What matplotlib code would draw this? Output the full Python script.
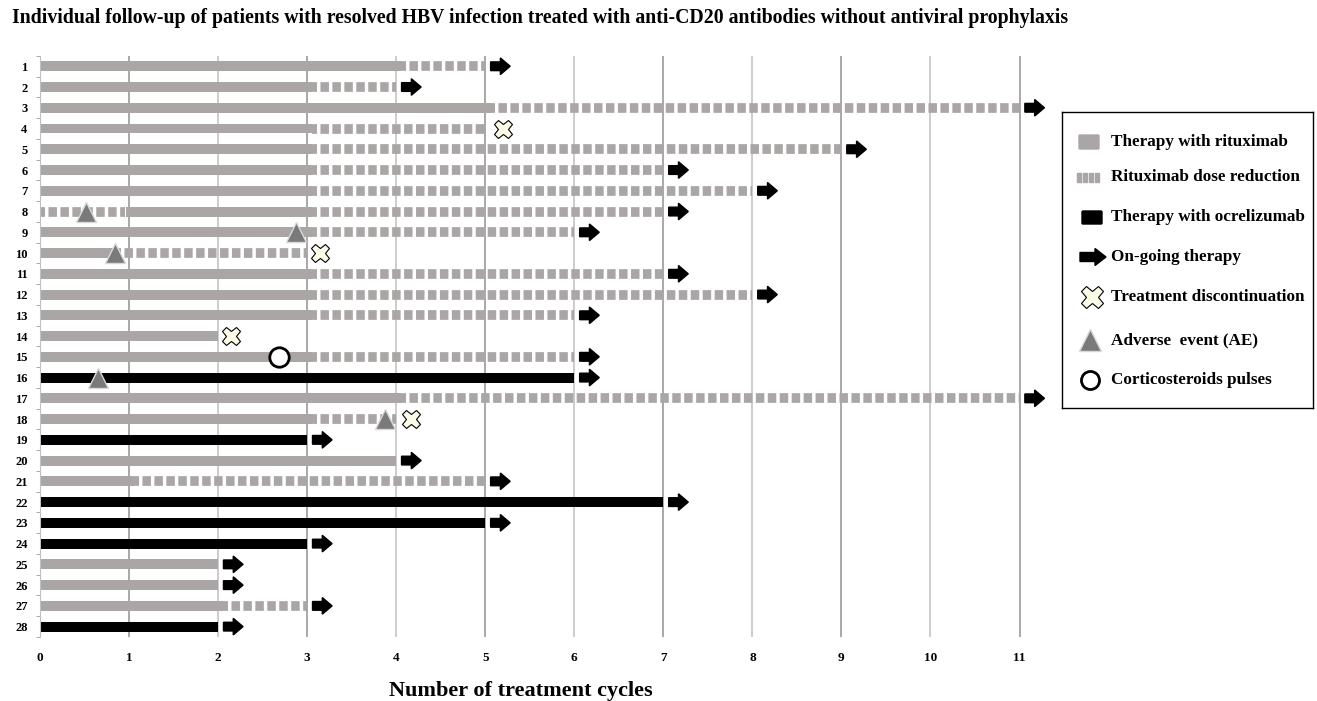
import matplotlib
matplotlib.use('Agg')
import matplotlib.pyplot as plt
from matplotlib.patches import Rectangle, FancyBboxPatch, FancyArrow
import numpy as np

# patient rows 1..28
patients = list(range(1, 29))
drug = ['R', 'R', 'R', 'R', 'R', 'R', 'R', 'R', 'R', 'R',
        'R', 'R', 'R', 'R', 'R', 'O', 'R', 'R', 'O', 'R',
        'R', 'O', 'O', 'O', 'R', 'R', 'R', 'O']
solid_start = [0, 0, 0, 0, 0, 0, 0, 0.97, 0, 0,
               0, 0, 0, 0, 0, 0, 0, 0, 0, 0,
               0, 0, 0, 0, 0, 0, 0, 0]
solid_end = [4.05, 3.05, 5.05, 3.05, 3.05, 3.05, 3.05, 3.05, 3.05, 0.85,
             3.05, 3.05, 3.05, 2.0, 3.05, 6, 4.05, 3.05, 3, 4.0,
             1.05, 7, 5, 3, 2, 2, 2.05, 2]
# end of reduced-dose rituximab (None = no reduction)
reduced_end = [5, 4, 11, 5, 9, 7, 8, 7, 6, 3,
               7, 8, 6, None, 6, None, 11, 4, None, None,
               5, None, None, None, None, None, 3, None]
# reduced dose before full dose (patient 8)
early_reduction = {8: (0, 0.95)}
ongoing = [True, True, True, False, True, True, True, True, True, False,
           True, True, True, False, True, True, True, False, True, True,
           True, True, True, True, True, True, True, True]
discontinuation = {4: 5.2, 10: 3.14, 14: 2.15, 18: 4.17}
adverse_event = {8: 0.52, 9: 2.88, 10: 0.84, 16: 0.65, 18: 3.87}
steroid_pulse = {15: 2.68}

GRAY = '#aaa6a6'
BAR_H = 0.48
plt.rcParams['font.family'] = ['Liberation Serif', 'DejaVu Serif']
plt.rcParams['lines.scale_dashes'] = False

fig = plt.figure(figsize=(13.17, 7.01), dpi=100)
ax = fig.add_axes([0.0304, 0.0913, 0.764, 0.829])

dash_style = (2.5, (6.1, 2.5))
lw_dash = 7.0

for i, p in enumerate(patients):
    color = GRAY if drug[i] == 'R' else 'black'
    ax.barh(p, solid_end[i] - solid_start[i], left=solid_start[i],
            height=BAR_H, color=color, zorder=2)
    if p in early_reduction:
        a, b = early_reduction[p]
        ax.plot([a, b], [p, p], color=GRAY, lw=lw_dash, linestyle=dash_style,
                dash_capstyle='butt', solid_capstyle='butt', zorder=2)
    end = solid_end[i]
    if reduced_end[i] is not None:
        ax.plot([solid_end[i], reduced_end[i]], [p, p], color=GRAY, lw=lw_dash,
                linestyle=dash_style, dash_capstyle='butt', zorder=2)
        end = reduced_end[i]
    if ongoing[i]:
        ax.add_patch(FancyArrow(end + 0.06, p, 0.22, 0, width=0.42,
                                head_width=0.8, head_length=0.11,
                                length_includes_head=True, color='black',
                                zorder=4))

for p, x in discontinuation.items():
    ax.plot(x, p, marker='X', ms=13, mfc='#fbfbe8', mec='black', mew=0.8,
            zorder=5)
for p, x in adverse_event.items():
    ax.plot(x, p, marker='^', ms=15, mfc='#7a7a7a', mec='#d8d8d8', mew=1,
            zorder=5)
for p, x in steroid_pulse.items():
    ax.plot(x, p, marker='o', ms=14, mfc='white', mec='black', mew=2,
            zorder=5)

ax.set_xlim(0, 11.3)
ax.set_ylim(28.5, 0.5)
ax.set_xticks(range(0, 12))
ax.set_xticklabels([str(v) for v in range(0, 12)], fontsize=9.5,
                   fontweight='bold')
ax.set_yticks(patients)
ax.set_yticklabels([str(p) for p in patients], fontsize=9, fontweight='bold')
ax.set_yticks(np.arange(0.5, 29, 1), minor=True)
ax.tick_params(axis='y', which='major', length=0, pad=9)
ax.tick_params(axis='y', which='minor', length=3, color='#999999')
ax.tick_params(axis='x', length=0, pad=11)
for v in range(1, 12):
    ax.axvline(v, color='#9a9a9a' if v % 2 else '#c4c4c4', lw=1.2, zorder=1)
for s in ['top', 'right', 'bottom']:
    ax.spines[s].set_visible(False)
ax.spines['left'].set_color('#c0c0c0')
ax.set_xlabel('Number of treatment cycles', fontsize=16, fontweight='bold')
ax.xaxis.set_label_coords(0.478, -0.075)

fig.text(12 / 1317, 1 - 18 / 701,
         'Individual follow-up of patients with resolved HBV infection treated '
         'with anti-CD20 antibodies without antiviral prophylaxis',
         fontsize=14.2, fontweight='bold', va='center', ha='left')

# legend box
lg = fig.add_axes([1062 / 1317, 1 - 408 / 701, 251 / 1317, 296 / 701])
lg.set_xlim(1062, 1313)
lg.set_ylim(408, 112)
lg.set_xticks([])
lg.set_yticks([])
for s in lg.spines.values():
    s.set_linewidth(1.0)
    s.set_color('black')

legend_labels = ['Therapy with rituximab', 'Rituximab dose reduction',
                 'Therapy with ocrelizumab', 'On-going therapy',
                 'Treatment discontinuation', 'Adverse  event (AE)',
                 'Corticosteroids pulses']
legend_y = [142, 177, 217, 257, 297, 340, 380]

lg.add_patch(FancyBboxPatch((1080, 136), 18, 12, boxstyle='round,pad=1',
                            color=GRAY))
for k in range(4):
    lg.add_patch(Rectangle((1077 + k * 6, 173), 4, 9, color=GRAY))
lg.add_patch(FancyBboxPatch((1083, 212), 18, 11, boxstyle='round,pad=1',
                            color='black'))
lg.add_patch(FancyArrow(1080, 257, 26, 0, width=9, head_width=17,
                        head_length=11, length_includes_head=True,
                        color='black'))
lg.plot(1092, 297, marker='X', ms=16, mfc='#fbfbe8', mec='black', mew=0.8)
lg.plot(1090, 340, marker='^', ms=16, mfc='#7a7a7a', mec='#d8d8d8', mew=1)
lg.plot(1090, 380, marker='o', ms=13, mfc='white', mec='black', mew=2)
for lab, y in zip(legend_labels, legend_y):
    lg.text(1111, y, lab, fontsize=12.3, fontweight='bold', va='center',
            ha='left')

fig.savefig('out.png', dpi=100)
plt.close(fig)
